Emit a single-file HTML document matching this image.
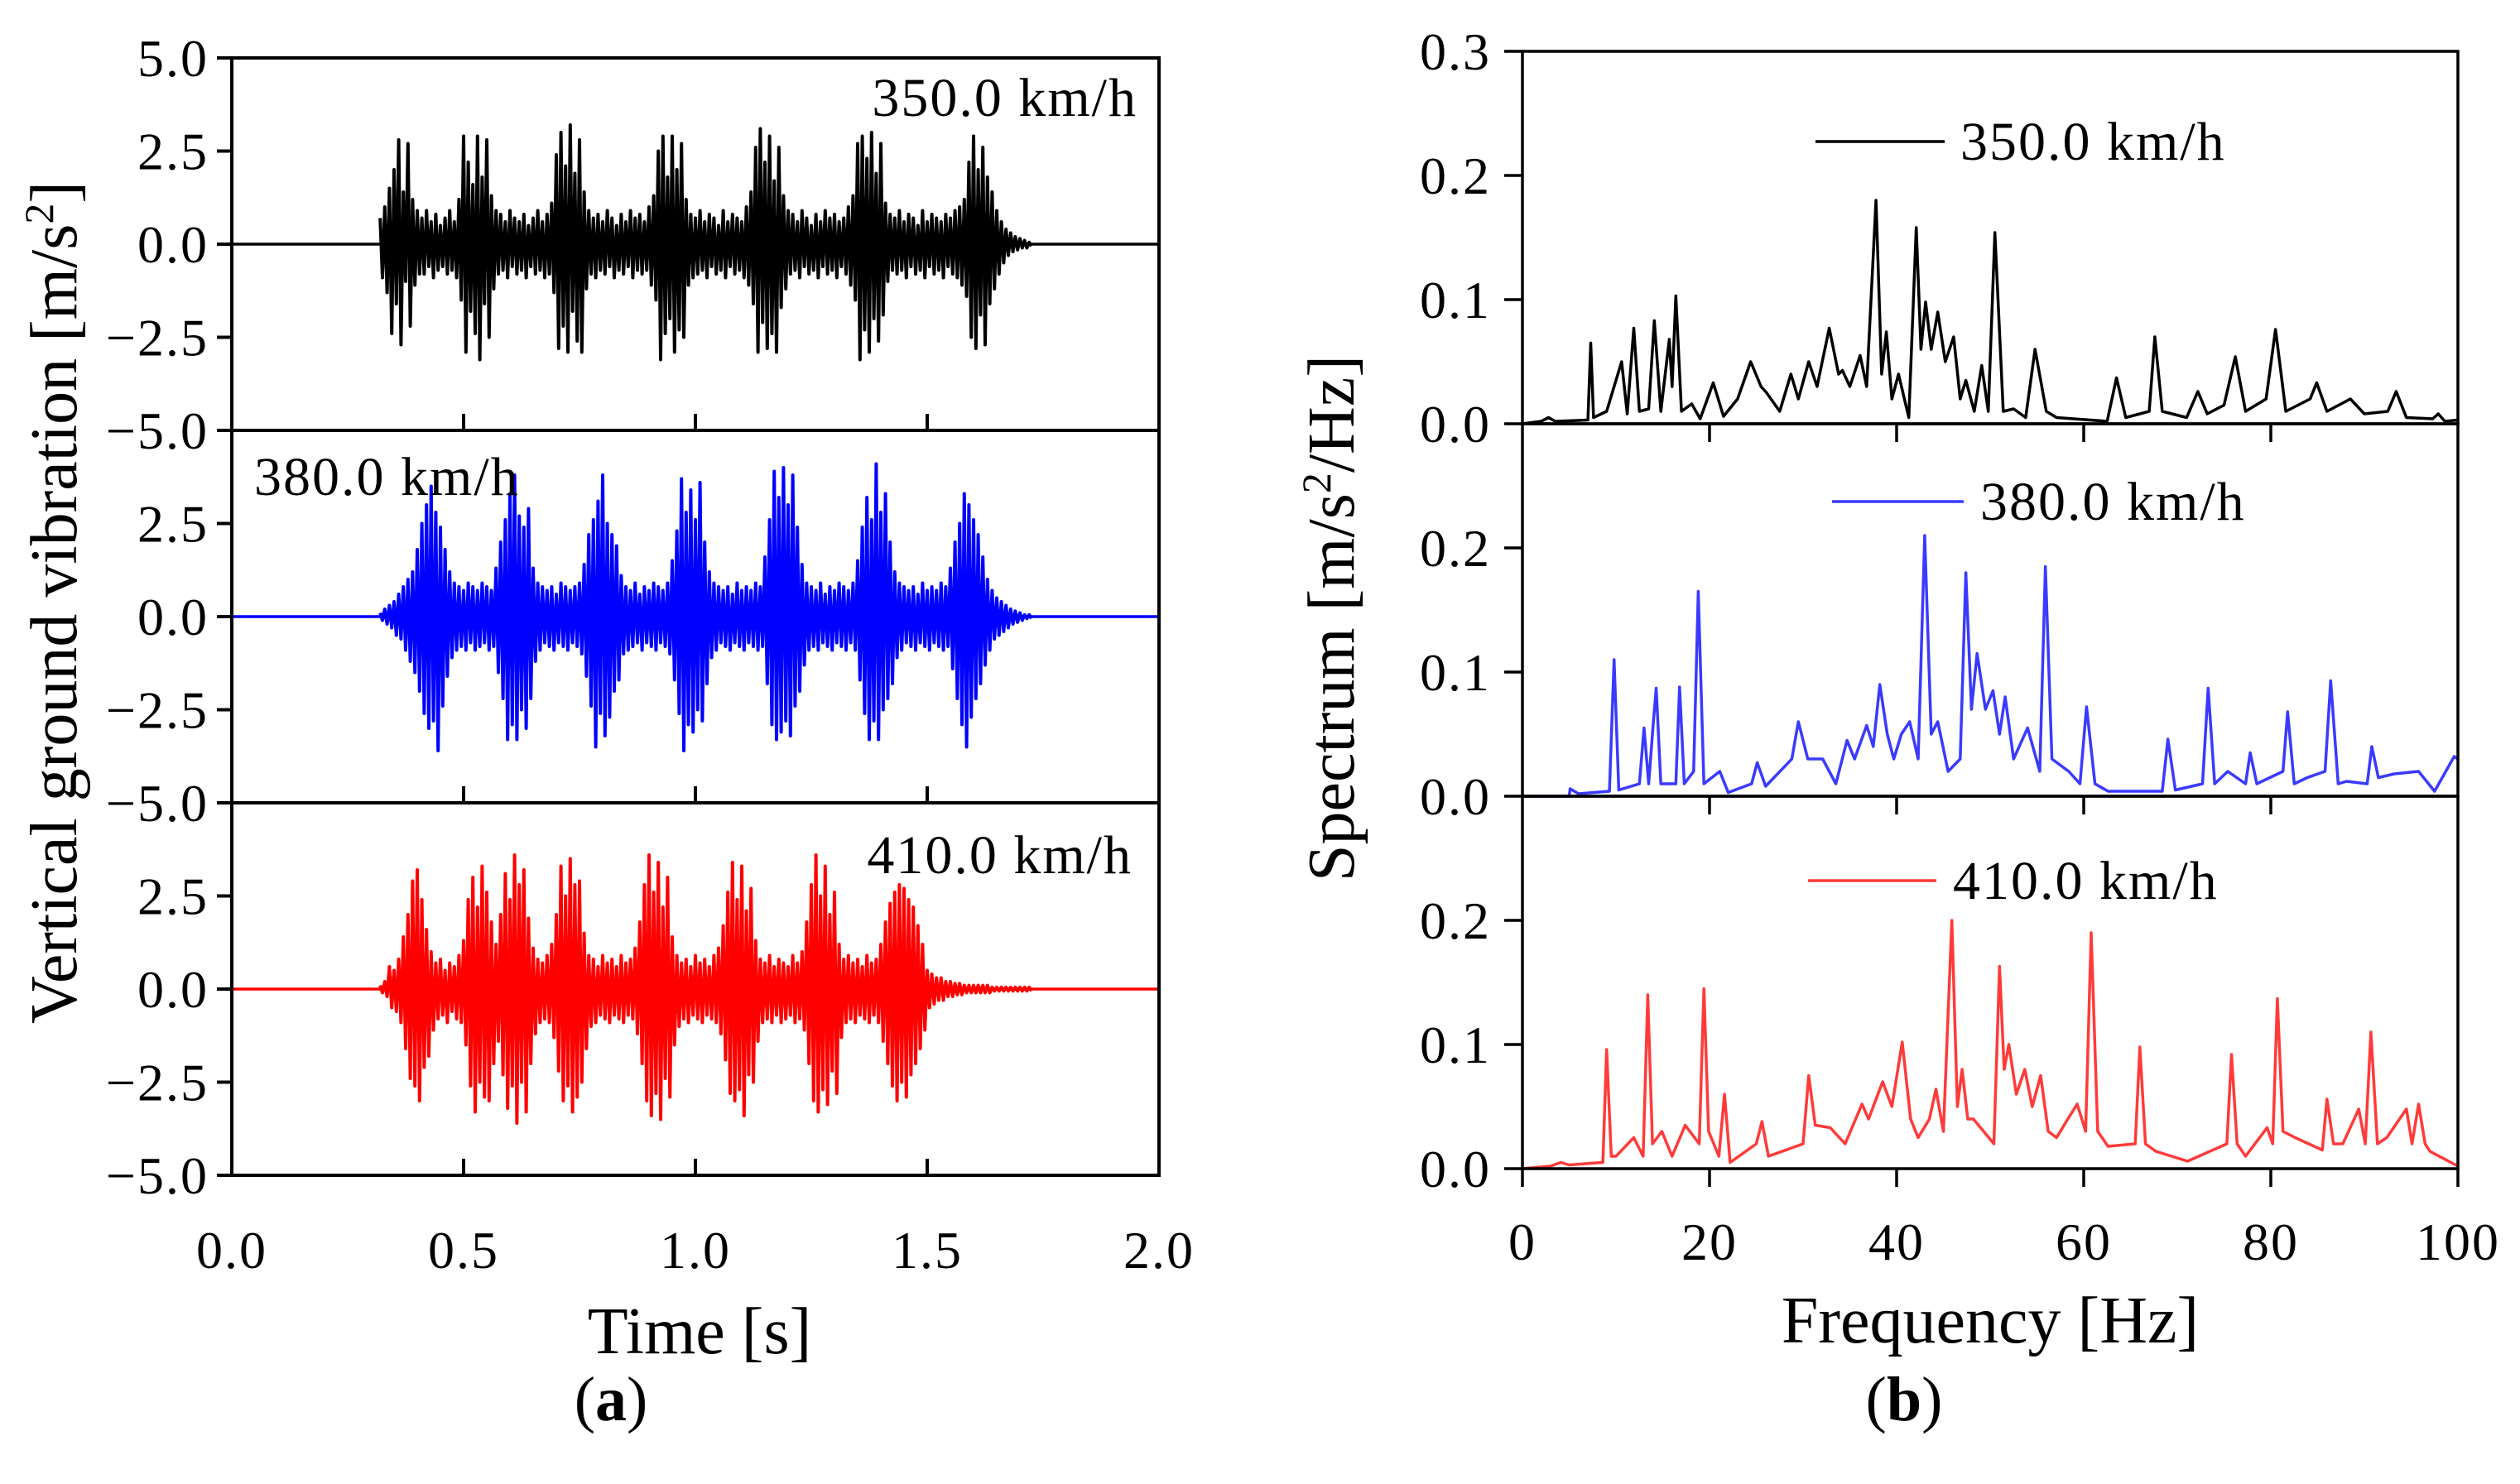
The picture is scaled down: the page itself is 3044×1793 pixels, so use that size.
<!DOCTYPE html>
<html><head><meta charset="utf-8"><style>
html,body{margin:0;padding:0;background:#fff;}
svg{display:block;font-family:"Liberation Serif",serif;}
</style></head><body>
<svg id="fig" width="3044" height="1793" viewBox="0 0 3044 1793" xmlns="http://www.w3.org/2000/svg">
<g id="ga"></g>
<g id="gb"></g>
</svg>
<script>
// ---- Time-history data (t = 0.32 + 0.01*i) ----
const tStart = 0.32, tStep = 0.01;
const blackPos = [0.7,1.0,1.5,2.0,2.8,1.4,2.7,1.2,0.9, 0.7,0.9,0.6,0.8,0.5,0.7,0.9,0.6, 1.2,2.9,2.2,1.6,2.9,1.8,2.8,1.3,0.9, 0.8,0.6,0.9,0.7,0.6,0.8,0.5,0.7,0.9,0.6,0.8, 1.1,2.4,3.0,2.1,3.2,1.9,2.8,1.4,0.9, 0.7,0.8,0.6,0.9,0.7,0.5,0.8,0.6,0.9,0.7,0.8,0.6,1.0, 1.3,2.5,2.9,1.8,2.9,2.0,2.7,1.2,0.8, 0.7,0.9,0.6,0.8,0.7,0.5,0.9,0.6,0.8,0.7,0.6,1.0, 1.4,2.6,3.1,2.2,2.9,1.7,2.6,1.3,0.9, 0.8,0.6,0.9,0.7,0.5,0.8,0.6,0.9,0.7,0.8,0.6,0.7,1.0, 1.3,2.7,2.9,2.3,3.0,1.9,2.7,1.1,0.8, 0.7,0.9,0.6,0.8,0.7,0.5,0.9,0.6,0.8,0.7,0.6,0.8,0.7,0.9,1.0, 1.2,2.2,2.9,2.0,2.6,1.8,1.4,0.9,0.6, 0.4,0.3,0.2,0.15,0.1,0.05];
const blackNeg = [0.9,1.3,2.4,1.6,2.7,1.0,2.2,1.1,0.8, 0.8,0.6,0.9,0.7,0.6,0.8,0.7,0.9, 1.5,2.9,1.8,2.4,3.1,1.6,2.5,1.2,0.8, 0.7,0.9,0.6,0.8,0.7,0.9,0.6,0.8,0.7,0.9,0.8, 1.3,2.8,2.2,2.9,1.8,2.6,2.9,1.2,0.8, 0.9,0.7,0.8,0.6,0.9,0.7,0.8,0.6,0.9,0.7,0.8,0.7,1.1, 1.5,3.1,2.4,2.0,2.9,2.3,2.5,1.1,0.9, 0.8,0.7,0.9,0.6,0.8,0.7,0.9,0.6,0.8,0.7,0.9,1.1, 1.6,2.9,2.1,2.8,2.4,2.9,1.7,1.2,0.8, 0.7,0.9,0.6,0.8,0.7,0.9,0.6,0.8,0.7,0.9,0.6,0.8,1.1, 1.5,3.1,2.3,2.9,2.0,2.6,1.9,1.0,0.7, 0.8,0.7,0.9,0.6,0.8,0.7,0.9,0.6,0.8,0.7,0.9,0.6,0.8,0.9,1.1, 1.4,2.5,2.8,1.9,2.7,1.6,1.2,0.8,0.5, 0.3,0.2,0.15,0.1,0.1,0.05];
const bluePos = [0.1,0.2,0.3,0.4,0.6,0.8,1.0, 1.2,1.8,2.5,3.0,3.5,2.8,2.4,1.8,1.2, 0.9,0.8,0.7,0.9,0.8,0.7,0.9,0.8,0.7, 1.3,2.0,2.6,3.3,3.8,2.7,2.4,2.9,1.3, 0.9,0.8,0.7,0.8,0.6,0.9,0.8,0.7,0.8,0.9, 1.4,2.2,2.6,3.1,3.8,2.5,2.2,1.9,1.1, 0.8,0.7,0.9,0.6,0.8,0.7,0.9,0.8,0.7,0.9, 1.5,2.3,3.7,2.8,3.4,2.6,3.6,2.0,1.2, 0.9,0.8,0.7,0.8,0.6,0.9,0.7,0.8,0.7,0.9,0.8, 1.6,2.6,3.9,3.2,4.0,3.0,3.8,2.4,1.4, 0.9,0.8,0.7,0.9,0.6,0.8,0.7,0.9,0.8,0.7,0.9, 1.5,2.4,3.2,2.6,4.1,2.8,3.3,2.0,1.2, 0.9,0.8,0.7,0.8,0.6,0.9,0.7,0.8,0.7,0.9,0.8, 1.3,2.0,2.5,3.3,3.0,2.6,2.2,1.6,1.0, 0.7,0.5,0.4,0.3,0.2,0.15,0.1,0.05,0.05];
const blueNeg = [0.1,0.2,0.3,0.5,0.6,0.9,1.2, 1.5,2.0,2.6,3.0,2.8,3.6,2.4,1.6,1.1, 0.9,0.8,0.9,0.7,0.9,0.8,0.7,0.9,0.8, 1.5,2.2,3.3,2.9,3.3,2.5,3.0,2.2,1.2, 0.9,0.7,0.8,0.9,0.7,0.8,0.9,0.7,0.8,1.0, 1.6,2.4,3.5,2.6,3.2,2.7,2.0,1.7,1.0, 0.9,0.8,0.7,0.9,0.7,0.8,0.9,0.7,0.8,1.0, 1.7,2.6,3.6,2.9,3.1,2.5,2.8,1.8,1.1, 0.9,0.7,0.8,0.9,0.7,0.8,0.9,0.7,0.8,0.9,0.8, 1.8,2.9,3.3,3.1,2.8,3.2,2.4,2.0,1.3, 0.9,0.8,0.9,0.7,0.8,0.9,0.7,0.8,0.9,0.7,0.9, 1.7,2.6,3.3,2.8,3.3,2.5,2.2,1.8,1.1, 0.9,0.7,0.8,0.9,0.7,0.8,0.9,0.7,0.8,0.9,0.8, 1.4,2.2,2.9,3.5,2.7,2.2,1.8,1.3,0.9, 0.6,0.5,0.4,0.3,0.2,0.15,0.1,0.05,0.05];
const redPos = [0.1,0.2,0.6,0.5, 0.8,1.4,2.0,2.9,3.2,2.4,1.6,1.0,0.7, 0.8,0.5,0.7,0.6,0.9,1.3, 2.4,3.0,2.2,3.3,2.6,1.8,1.2,2.0,3.1,2.4,3.6,2.8,3.2,1.9,1.1, 0.8,0.7,0.9,1.2, 2.0,3.3,2.5,3.5,2.8,2.9,1.5,0.9, 0.8,0.6,0.9,0.7,0.8,0.6,0.9,0.7,0.8,1.1, 1.8,2.8,3.6,2.6,3.4,2.2,3.0,1.4,0.9, 0.7,0.8,0.6,0.9,0.7,0.8,0.6,0.9,1.1, 1.7,2.6,3.4,2.4,3.3,2.1,2.7,1.3,0.8, 0.7,0.9,0.6,0.8,0.7,0.6,0.9,0.7,1.0, 1.8,2.8,3.6,2.5,3.3,2.0,2.6,1.2,0.8, 0.9,0.7,0.8,0.6,0.9,0.7,0.8,1.2, 1.8,2.3,2.6,2.8,2.7,2.4,2.2,1.7,1.2, 0.5,0.4,0.3,0.3,0.2,0.2,0.15,0.15,0.1,0.1,0.1,0.1,0.1,0.1,0.05,0.05,0.05,0.05,0.05,0.05,0.05,0.05,0.05];
const redNeg = [0.1,0.2,0.5,0.6, 0.9,1.6,2.4,2.6,3.0,2.1,1.8,1.1,0.8, 0.7,0.9,0.6,0.8,0.9,1.5, 2.6,3.3,2.5,2.9,3.0,2.0,1.4,2.3,3.2,2.6,3.6,2.5,3.3,2.0,1.2, 0.9,0.8,0.9,1.3, 2.2,3.0,2.6,3.3,2.9,2.5,1.6,1.0, 0.9,0.7,0.8,0.9,0.7,0.8,0.9,0.7,0.8,1.2, 2.0,3.0,3.4,2.8,3.5,2.4,2.9,1.5,1.0, 0.8,0.9,0.7,0.8,0.9,0.7,0.8,0.9,1.2, 1.9,2.8,3.0,2.7,3.4,2.3,2.5,1.4,0.9, 0.8,0.9,0.7,0.9,0.8,0.7,0.9,0.8,1.1, 2.0,3.0,3.3,2.7,3.1,2.2,2.8,1.3,0.9, 0.8,0.9,0.7,0.8,0.9,0.7,0.9,1.4, 2.0,2.6,3.0,2.5,2.9,2.3,2.0,1.6,1.1, 0.5,0.4,0.3,0.3,0.2,0.2,0.15,0.15,0.1,0.1,0.1,0.1,0.1,0.1,0.05,0.05,0.05,0.05,0.05,0.05,0.05,0.05,0.05];
const timeTicks = ["0.0","0.5","1.0","1.5","2.0"];
const accTicks = ["5.0","2.5","0.0","−2.5","−5.0"];

// ---- Spectrum data ----
const blackF = [0,2,2.8,3.5,7,7.3,7.6,9,10.6,11.2,11.9,12.5,13.5,14.1,14.8,15.7,16,16.4,17,18.1,19,20.4,21.5,23,24.4,25.5,26.1,27.5,28.7,29.5,30.6,31.5,32.8,33.8,34.2,35,36.1,36.8,37.8,38.4,38.9,39.5,40.2,41.3,42.1,42.6,43.1,43.7,44.4,45.2,46.1,46.8,47.4,48.3,49.1,49.8,50.5,51.4,52.5,53.8,54.8,56,57.1,62.5,63.5,64.5,67,67.6,68.4,71,72.2,73.2,75,76.2,77.3,79.5,80.5,81.6,84.2,84.9,86,88.5,90,92.5,93.4,94.5,97.3,97.9,98.6,100];
const blackV = [0,.002,.005,.002,.003,.065,.005,.01,.05,.008,.077,.01,.012,.083,.01,.068,.03,.103,.01,.016,.004,.033,.006,.02,.05,.03,.025,.01,.04,.02,.05,.03,.077,.04,.043,.03,.055,.03,.18,.04,.074,.02,.04,.005,.158,.06,.098,.06,.09,.05,.07,.02,.035,.01,.047,.01,.154,.01,.012,.005,.06,.01,.005,.002,.037,.005,.01,.07,.01,.005,.026,.008,.015,.054,.01,.02,.076,.01,.02,.033,.01,.02,.008,.01,.026,.005,.004,.008,.002,.003];
const blueF = [0,5,5.1,6,9.3,9.8,10.3,12.5,13,13.5,14,14.3,14.8,16.4,16.8,17.3,18.3,18.8,19.4,21.1,22,24.5,25.1,26,28.8,29.5,30.5,32.1,33.5,34.7,35.5,36.8,37.5,38.2,39,39.7,40.5,41.4,42.3,43,43.7,44.4,45.5,46.8,47.4,48,48.6,49.5,50.3,51,51.6,52.5,54,55.3,55.9,56.6,58.4,59.6,60.3,61.2,62.6,68.4,69,69.8,72.7,73.3,74,75.4,77.3,77.8,78.5,81.3,81.8,82.5,83.9,85.8,86.4,87.2,88.1,90.3,90.8,91.5,93.2,95.8,97.5,99.6,100];
const blueV = [0,0,.006,.002,.004,.11,.005,.01,.055,.01,.06,.087,.01,.01,.088,.01,.02,.165,.01,.02,.003,.01,.027,.008,.03,.06,.03,.03,.01,.045,.03,.057,.04,.09,.05,.03,.05,.06,.03,.21,.05,.06,.02,.03,.18,.07,.115,.07,.085,.05,.08,.03,.055,.02,.185,.03,.02,.01,.072,.01,.004,.004,.046,.005,.01,.087,.01,.02,.01,.035,.01,.02,.068,.01,.015,.02,.093,.01,.012,.01,.04,.015,.018,.02,.004,.032,.03];
const redF = [0,3,4.1,5,8.6,9,9.5,10,11.9,12.9,13.4,13.9,14.9,16,17.4,18.9,19.4,19.9,21,21.6,22.2,25,25.6,26.3,30,30.6,31.3,32.9,34.5,36.3,37,38.5,39.5,40.6,41.5,42.3,43.5,44.2,45,45.9,46.5,47,47.6,48.2,50.4,51,51.5,52,52.8,53.7,54.5,55.4,56.2,57.1,58.3,59.3,60.2,60.8,61.5,62.6,65.5,66,66.6,67.7,71.1,75.3,75.8,76.4,77.3,79.6,80.2,80.7,81.3,82.6,85.5,86,86.7,87.7,89.4,90.1,90.7,91.4,92.4,94.5,95.1,95.8,96.5,97,100];
const redV = [0,.002,.005,.003,.005,.096,.01,.01,.025,.01,.14,.02,.03,.01,.035,.02,.145,.03,.01,.06,.005,.02,.038,.01,.02,.075,.035,.033,.02,.052,.04,.07,.05,.102,.04,.025,.04,.064,.03,.2,.05,.08,.04,.04,.02,.163,.08,.1,.06,.08,.05,.075,.03,.025,.04,.052,.03,.19,.03,.018,.02,.098,.02,.014,.006,.02,.092,.02,.01,.033,.02,.137,.03,.025,.015,.056,.02,.02,.048,.02,.11,.02,.025,.048,.02,.052,.02,.014,.002];
const freqTicks = ["0","20","40","60","80","100"];
const specTicks = ["0.3","0.2","0.1","0.0"];
const speedLabels = ["350.0 km/h","380.0 km/h","410.0 km/h"];

const NS = "http://www.w3.org/2000/svg";
function mk(parent, tag, attrs, text){
  const e = document.createElementNS(NS, tag);
  for (const k in attrs) e.setAttribute(k, attrs[k]);
  if (text !== undefined) e.textContent = text;
  parent.appendChild(e);
  return e;
}
const ga = document.getElementById('ga'), gb = document.getElementById('gb');

// ===== Panel (a) =====
const aL = 280, aR = 1400, aT = 70, aH = 450;
const xA = t => aL + t * (aR - aL) / 2;
const yA = (v, k) => aT + k * aH + (5 - v) * aH / 10;
const tsPos = [blackPos, bluePos, redPos], tsNeg = [blackNeg, blueNeg, redNeg];
const tsCol = ["#000", "#0000ff", "#ff0000"];
for (let k = 0; k < 3; k++) {
  const bl = mk(ga, 'line', {x1: aL, x2: aR, y1: yA(0,k), y2: yA(0,k), stroke: tsCol[k], 'stroke-width': 3.5});
  
  
  const P = tsPos[k], N = tsNeg[k];
  let pts = [];
  for (let i = 0; i < Math.min(P.length, N.length); i++) {
    const t = tStart + tStep * i;
    pts.push(xA(t).toFixed(1) + ',' + yA(P[i], k).toFixed(1));
    pts.push(xA(t + tStep / 2).toFixed(1) + ',' + yA(-N[i], k).toFixed(1));
  }
  const pl = mk(ga, 'polyline', {points: pts.join(' '), fill: 'none', stroke: tsCol[k], 'stroke-width': 4, 'stroke-linejoin': 'round'});
  
  
}
for (let k = 0; k < 3; k++) {
  const r = mk(ga, 'rect', {x: aL, y: aT + k * aH, width: aR - aL, height: aH, fill: 'none', stroke: '#000', 'stroke-width': 4});
  
  
  for (let j = 1; j < 4; j++) {
    const x = xA(j * 0.5);
    const tk = mk(ga, 'line', {x1: x, x2: x, y1: aT + (k + 1) * aH, y2: aT + (k + 1) * aH - 20, stroke: '#000', 'stroke-width': 4});
    
    
  }
  for (let j = 0; j < accTicks.length; j++) {
    if (k > 0 && j === 0) continue;
    const y = aT + k * aH + j * aH / 4;
    const tk = mk(ga, 'line', {x1: aL - 18, x2: aL, y1: y, y2: y, stroke: '#000', 'stroke-width': 4});
    
    
    const tl = mk(ga, 'text', {x: 252, y: y + 22, 'font-size': 64, 'text-anchor': 'end', 'letter-spacing': 2}, accTicks[j]);
    
    
  }
}
timeTicks.forEach((s, j) => {
  const tl = mk(ga, 'text', {x: xA(j * 0.5), y: 1532, 'font-size': 64, 'text-anchor': 'middle', 'letter-spacing': 2}, s);
  
  
});
[[1374, 140, 'end'], [307, 598, 'start'], [1368, 1055, 'end']].forEach((p, k) => {
  const tl = mk(ga, 'text', {x: p[0], y: p[1], 'font-size': 66, 'text-anchor': p[2], 'letter-spacing': 2}, speedLabels[k]);
  
  
});
let t1 = mk(ga, 'text', {x: 845, y: 1635, 'font-size': 80, 'text-anchor': 'middle'}, 'Time [s]');


let t2 = mk(ga, 'text', {x: 0, y: 0, 'font-size': 80, 'text-anchor': 'middle', transform: 'translate(92,728) rotate(-90)'});


t2.innerHTML = 'Vertical ground vibration [m/s<tspan font-size="50" dy="-28">2</tspan><tspan dy="28">]</tspan>';
let ca = mk(ga, 'text', {x: 738, y: 1716, 'font-size': 76, 'text-anchor': 'middle'});


ca.innerHTML = '(<tspan font-weight="bold">a</tspan>)';

// ===== Panel (b) =====
const bL = 1839, bR = 2969, bT = 62, bH = 450;
const xB = f => bL + f * (bR - bL) / 100;
const yB = (v, k) => bT + (k + 1) * bH - v * bH / 0.3;
const spF = [blackF, blueF, redF], spV = [blackV, blueV, redV];
const spCol = ["#000", "#3a3aff", "#ff3a3a"];
for (let k = 0; k < 3; k++) {
  const F = spF[k], V = spV[k];
  let pts = [];
  for (let i = 0; i < Math.min(F.length, V.length); i++) pts.push(xB(F[i]).toFixed(1) + ',' + yB(V[i], k).toFixed(1));
  const pl = mk(gb, 'polyline', {points: pts.join(' '), fill: 'none', stroke: spCol[k], 'stroke-width': 3.5, 'stroke-linejoin': 'round'});
  
  
}
for (let k = 0; k < 3; k++) {
  const r = mk(gb, 'rect', {x: bL, y: bT + k * bH, width: bR - bL, height: bH, fill: 'none', stroke: '#000', 'stroke-width': 3.5});
  
  
  const yb = bT + (k + 1) * bH;
  for (let j = 0; j < freqTicks.length; j++) {
    if (k < 2 && (j === 0 || j === 5)) continue;
    const x = xB(j * 20);
    const tk = mk(gb, 'line', {x1: x, x2: x, y1: yb, y2: yb + 22, stroke: '#000', 'stroke-width': 3.5});
    
    
  }
  for (let j = 0; j < specTicks.length; j++) {
    if (k > 0 && j === 0) continue;
    const y = bT + k * bH + j * bH / 3;
    const tk = mk(gb, 'line', {x1: bL - 22, x2: bL, y1: y, y2: y, stroke: '#000', 'stroke-width': 3.5});
    
    
    const tl = mk(gb, 'text', {x: 1801, y: y + 22, 'font-size': 64, 'text-anchor': 'end', 'letter-spacing': 2}, specTicks[j]);
    
    
  }
}
freqTicks.forEach((s, j) => {
  const tl = mk(gb, 'text', {x: xB(j * 20), y: 1522, 'font-size': 64, 'text-anchor': 'middle', 'letter-spacing': 2}, s);
  
  
});
[[2193, 2349, 171, 2368], [2213, 2372, 606, 2392], [2184, 2339, 1064, 2359]].forEach((p, k) => {
  const ln = mk(gb, 'line', {x1: p[0], x2: p[1], y1: p[2], y2: p[2], stroke: spCol[k], 'stroke-width': 3.5});
  
  
  const tl = mk(gb, 'text', {x: p[3], y: p[2] + 22, 'font-size': 66, 'letter-spacing': 2}, speedLabels[k]);
  
  
});
let t3 = mk(gb, 'text', {x: 2404, y: 1622, 'font-size': 80, 'text-anchor': 'middle'}, 'Frequency [Hz]');


let t4 = mk(gb, 'text', {x: 0, y: 0, 'font-size': 80, 'text-anchor': 'middle', transform: 'translate(1635,747) rotate(-90)'});


t4.innerHTML = 'Spectrum [m/s<tspan font-size="50" dy="-28">2</tspan><tspan dy="28">/Hz]</tspan>';
let cb = mk(gb, 'text', {x: 2300, y: 1716, 'font-size': 76, 'text-anchor': 'middle'});


cb.innerHTML = '(<tspan font-weight="bold">b</tspan>)';
</script>
</body></html>
